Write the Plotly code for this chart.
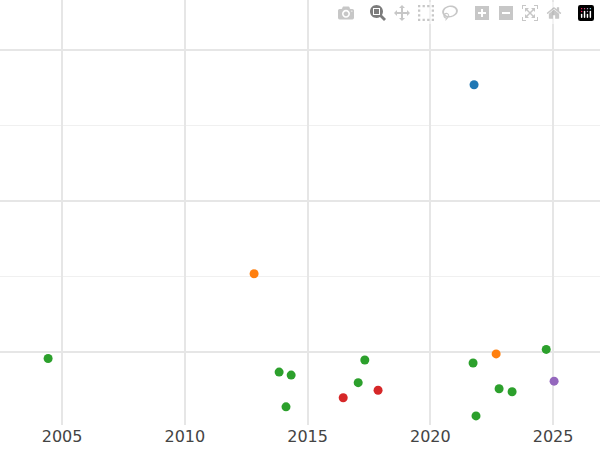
import plotly.graph_objects as go

groups = {
    "#1f77b4": ([2021.78], [1.77]),
    "#ff7f0e": ([2012.82, 2022.68], [0.52, -0.01]),
    "#2ca02c": ([2004.43, 2013.84, 2014.33, 2014.12, 2017.06, 2017.33, 2021.74, 2024.72, 2022.80, 2023.33, 2021.86],
                [-0.04, -0.13, -0.15, -0.36, -0.20, -0.05, -0.07, 0.02, -0.24, -0.26, -0.42]),
    "#d62728": ([2016.45, 2017.87], [-0.30, -0.25]),
    "#9467bd": ([2025.04], [-0.19]),
}

fig = go.Figure()
for color, (xs, ys) in groups.items():
    fig.add_trace(go.Scatter(x=xs, y=ys, mode="markers", marker=dict(color=color, size=9), showlegend=False))

fig.update_layout(
    width=600, height=450, margin=dict(l=0, r=0, t=0, b=25),
    plot_bgcolor="white", paper_bgcolor="white",
    font=dict(family="DejaVu Sans", size=16, color="#444"),
)
fig.update_xaxes(range=[2002.47, 2026.91], tickvals=[2005, 2010, 2015, 2020, 2025],
                 showgrid=True, gridcolor="#e6e6e6", gridwidth=1.5, zeroline=False,
                 minor=dict(tickvals=[2010, 2020], showgrid=True, gridcolor="#f0f0f0", gridwidth=1))
fig.update_yaxes(range=[-0.48, 2.33], tickvals=[0, 1, 2], showticklabels=False,
                 showgrid=True, gridcolor="#e6e6e6", gridwidth=1.5, zeroline=False,
                 minor=dict(tickvals=[0.5, 1.5], showgrid=True, gridcolor="#f0f0f0", gridwidth=1))
fig.write_html("out.html", post_script="document.body.style.margin='0';")
